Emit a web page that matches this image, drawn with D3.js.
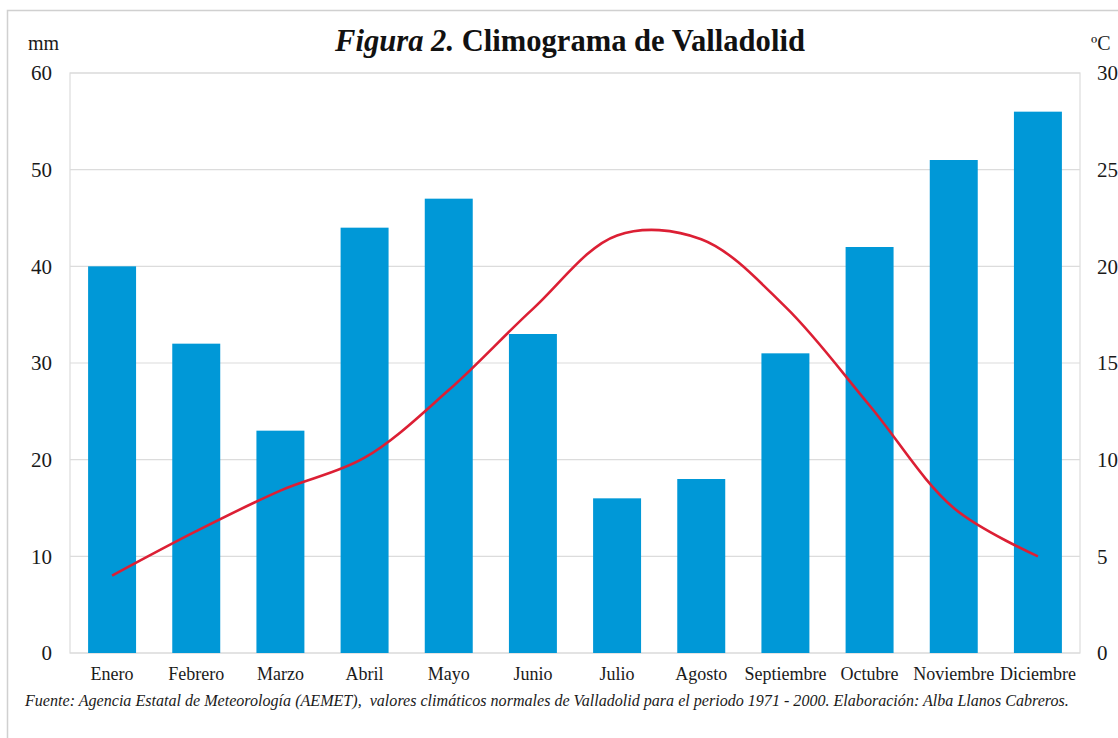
<!DOCTYPE html>
<html>
<head>
<meta charset="utf-8">
<script src="https://cdn.jsdelivr.net/npm/d3@7"></script>
<style>
  body { margin: 0; background: #fff; }
</style>
</head>
<body>
<svg id="chart" width="1118" height="738"></svg>
<script>
const months = ["Enero", "Febrero", "Marzo", "Abril", "Mayo", "Junio", "Julio", "Agosto", "Septiembre", "Octubre", "Noviembre", "Diciembre"];
const rain = [40, 32, 23, 44, 47, 33, 16, 18, 31, 42, 51, 56];
const temp = [4.0, 6.3, 8.4, 10.1, 13.6, 17.8, 21.6, 21.4, 17.9, 12.8, 7.5, 5.0];
const rainTicks = [0, 10, 20, 30, 40, 50, 60];
const tempTicks = [0, 5, 10, 15, 20, 25, 30];

const serif = "Liberation Serif";
const ink = "#1a1a1a";
const svg = d3.select("#chart");
const plotLeft = 70, plotRight = 1080, plotTop = 73, plotBottom = 653;

// outer frame
svg.append("rect")
  .attr("x", 7.5).attr("y", 10.5)
  .attr("width", 1130).attr("height", 760)
  .attr("fill", "none").attr("stroke", "#d0d0d0").attr("stroke-width", 1.5);

const x = d3.scaleBand()
  .domain(months)
  .range([plotLeft, plotRight])
  .paddingInner(0.43)
  .paddingOuter(0.215);

const y = d3.scaleLinear().domain([0, 60]).range([plotBottom, plotTop]);
const y2 = d3.scaleLinear().domain([0, 30]).range([plotBottom, plotTop]);

// gridlines
svg.append("g").selectAll("line")
  .data(rainTicks)
  .join("line")
  .attr("x1", plotLeft).attr("x2", plotRight)
  .attr("y1", d => y(d)).attr("y2", d => y(d))
  .attr("stroke", "#dcdcdc").attr("stroke-width", 1.2);

// plot area border
svg.append("rect")
  .attr("x", plotLeft).attr("y", plotTop)
  .attr("width", plotRight - plotLeft).attr("height", plotBottom - plotTop)
  .attr("fill", "none").attr("stroke", "#dcdcdc").attr("stroke-width", 1.2);

// bars
svg.append("g").selectAll("rect")
  .data(rain)
  .join("rect")
  .attr("x", (d, i) => x(months[i]))
  .attr("y", d => y(d))
  .attr("width", x.bandwidth())
  .attr("height", d => y(0) - y(d))
  .attr("fill", "#0098d7");

// temperature line
const line = d3.line()
  .x((d, i) => x(months[i]) + x.bandwidth() / 2)
  .y(d => y2(d))
  .curve(d3.curveCatmullRom.alpha(0.5));

svg.append("path")
  .datum(temp)
  .attr("d", line)
  .attr("fill", "none")
  .attr("stroke", "#dc1f34")
  .attr("stroke-width", 2.6);

// left axis
const yAxis = d3.axisLeft(y).tickValues(rainTicks).tickSize(0).tickPadding(18);
const gy = svg.append("g").attr("transform", `translate(${plotLeft},0)`).call(yAxis);
gy.select(".domain").remove();
gy.selectAll("text").style("font-size", "21px").style("font-family", serif).attr("fill", ink);

// right axis
const y2Axis = d3.axisRight(y2).tickValues(tempTicks).tickSize(0).tickPadding(17);
const gy2 = svg.append("g").attr("transform", `translate(${plotRight},0)`).call(y2Axis);
gy2.select(".domain").remove();
gy2.selectAll("text").style("font-size", "21px").style("font-family", serif).attr("fill", ink);

// bottom axis
const xAxis = d3.axisBottom(x).tickSize(0).tickPadding(14);
const gx = svg.append("g").attr("transform", `translate(0,${plotBottom})`).call(xAxis);
gx.select(".domain").remove();
gx.selectAll("text").style("font-size", "18px").style("font-family", serif).attr("fill", ink);

// units
svg.append("text").attr("x", 28).attr("y", 50)
  .style("font-family", serif).style("font-size", "20px").attr("fill", ink).text("mm");
svg.append("text").attr("x", 1091).attr("y", 50)
  .style("font-family", serif).style("font-size", "20px").attr("fill", ink).text("ºC");

// title
const title = svg.append("text")
  .attr("x", 570).attr("y", 51)
  .attr("text-anchor", "middle")
  .style("font-family", serif)
  .style("font-size", "30px").style("font-weight", "bold").attr("fill", "#111");
title.append("tspan").style("font-style", "italic").text("Figura 2.");
title.append("tspan").text(" Climograma de Valladolid");
const tw = title.node().getComputedTextLength();
title.style("font-size", (30 * 470 / tw) + "px");

// source
const src = svg.append("text")
  .attr("x", 25).attr("y", 706)
  .attr("xml:space", "preserve")
  .style("font-family", serif)
  .style("font-size", "15px").style("font-style", "italic").attr("fill", ink)
  .text("Fuente: Agencia Estatal de Meteorología (AEMET),  valores climáticos normales de Valladolid para el periodo 1971 - 2000. Elaboración: Alba Llanos Cabreros.");
const sw = src.node().getComputedTextLength();
src.style("font-size", (15 * 1045 / sw) + "px");
</script>
</body>
</html>
